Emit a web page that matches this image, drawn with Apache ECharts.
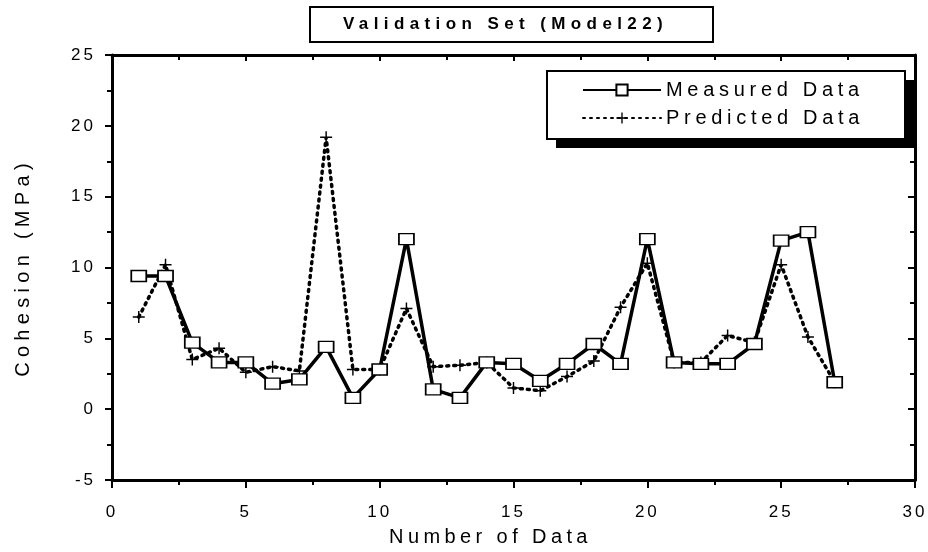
<!DOCTYPE html>
<html lang="en">
<head>
    <meta charset="UTF-8">
    <title>Validation Set</title>
    <script src="https://cdn.jsdelivr.net/npm/echarts@6/dist/echarts.min.js"></script>
    <style>
        html, body { margin: 0; padding: 0; background: #fff; }
        #container { width: 928px; height: 552px; }
    </style>
</head>
<body>
<div id="container"></div>
<script type="text/javascript">
    // data
    var sampleNo = [1, 2, 3, 4, 5, 6, 7, 8, 9, 10, 11, 12, 13, 14, 15, 16, 17, 18, 19, 20, 21, 22, 23, 24, 25, 26, 27];
    var measured = [9.4, 9.4, 4.7, 3.3, 3.3, 1.8, 2.1, 4.4, 0.8, 2.8, 12.0, 1.4, 0.8, 3.3, 3.2, 2.0, 3.2, 4.6, 3.2, 12.0, 3.3, 3.2, 3.2, 4.6, 11.9, 12.5, 1.9];
    var predicted = [6.5, 10.2, 3.5, 4.3, 2.6, 3.0, 2.7, 19.2, 2.8, 2.8, 7.1, 3.0, 3.1, 3.3, 1.5, 1.3, 2.3, 3.4, 7.2, 10.3, 3.3, 3.3, 5.2, 4.7, 10.2, 5.1, 1.9];
    var xTicks = [0, 5, 10, 15, 20, 25, 30];
    var yTicks = [-5, 0, 5, 10, 15, 20, 25];

    var titleText = 'Validation Set (Model22)';
    var xName = 'Number of Data';
    var yName = 'Cohesion (MPa)';
    var seriesNames = ['Measured Data', 'Predicted Data'];

    // the original lettering is widely spaced; canvas letterSpacing does that
    var spacing = {};
    spacing[titleText] = 5.4;
    spacing[xName] = 4.4;
    spacing[yName] = 5.3;
    spacing[seriesNames[0]] = 4.7;
    spacing[seriesNames[1]] = 4.7;
    var origFillText = CanvasRenderingContext2D.prototype.fillText;
    CanvasRenderingContext2D.prototype.fillText = function (txt, x, y, maxWidth) {
        var s = spacing[txt];
        this.letterSpacing = (s === undefined ? 3 : s) + 'px';
        if (maxWidth === undefined) {
            origFillText.call(this, txt, x, y);
        } else {
            origFillText.call(this, txt, x, y, maxWidth);
        }
        this.letterSpacing = '0px';
    };

    function pairs(ys) {
        var out = [];
        for (var i = 0; i < sampleNo.length; i++) {
            out.push([sampleNo[i], ys[i]]);
        }
        return out;
    }

    var font = 'Liberation Sans, Arial, sans-serif';
    var plusPath = 'path://M4.4,0h1.2v4.4h4.4v1.2h-4.4v4.4h-1.2v-4.4h-4.4v-1.2h4.4z';
    var tickStyle = { color: '#000', width: 2 };

    var myChart = echarts.init(document.getElementById('container'));
    var option = {
        animation: false,
        backgroundColor: '#fff',
        title: {
            text: titleText,
            left: 343,
            top: 16,
            padding: 0,
            textStyle: { fontFamily: font, fontWeight: 'bold', fontSize: 17, color: '#000' }
        },
        graphic: [
            // title frame
            { type: 'rect', z: 3, shape: { x: 310, y: 7, width: 403, height: 35 },
              style: { fill: 'none', stroke: '#000', lineWidth: 2 } },
            // legend frame with its drop shadow
            { type: 'rect', z: 3, shape: { x: 556, y: 80, width: 358, height: 68 },
              style: { fill: '#000' } },
            { type: 'rect', z: 3, shape: { x: 547, y: 71, width: 358, height: 68 },
              style: { fill: '#fff', stroke: '#000', lineWidth: 2 } }
        ],
        legend: {
            left: 582,
            top: 80,
            orient: 'vertical',
            itemWidth: 78,
            itemHeight: 14,
            itemGap: 8,
            padding: 0,
            z: 5,
            textStyle: { fontFamily: font, fontSize: 20, color: '#000' },
            data: seriesNames
        },
        grid: { left: 112, right: 13, top: 55, bottom: 65 },
        xAxis: [{
            type: 'value',
            min: xTicks[0],
            max: xTicks[xTicks.length - 1],
            interval: 5,
            name: xName,
            nameLocation: 'middle',
            nameGap: 47,
            nameTextStyle: { fontFamily: font, fontSize: 20, color: '#000', padding: [0, 46, 0, 0] },
            axisLine: { onZero: false, lineStyle: { color: '#000', width: 3 } },
            axisTick: { show: true, length: 8, lineStyle: tickStyle },
            minorTick: { show: true, splitNumber: 2, length: 5, lineStyle: tickStyle },
            axisLabel: { fontFamily: font, fontSize: 17, color: '#000', margin: 24 },
            splitLine: { show: false }
        }, {
            type: 'value',
            position: 'top',
            min: xTicks[0],
            max: xTicks[xTicks.length - 1],
            interval: 5,
            axisLine: { onZero: false, lineStyle: { color: '#000', width: 3 } },
            axisTick: { show: true, inside: true, length: 6, lineStyle: tickStyle },
            minorTick: { show: true, splitNumber: 2, length: 5, lineStyle: tickStyle },
            axisLabel: { show: false },
            splitLine: { show: false }
        }],
        yAxis: [{
            type: 'value',
            min: yTicks[0],
            max: yTicks[yTicks.length - 1],
            interval: 5,
            name: yName,
            nameLocation: 'middle',
            nameGap: 79,
            nameTextStyle: { fontFamily: font, fontSize: 20, color: '#000' },
            axisLine: { show: true, onZero: false, lineStyle: { color: '#000', width: 3 } },
            axisTick: { show: true, length: 7, lineStyle: tickStyle },
            minorTick: { show: true, splitNumber: 2, length: 5, lineStyle: tickStyle },
            axisLabel: { fontFamily: font, fontSize: 17, color: '#000', margin: 16 },
            splitLine: { show: false }
        }, {
            type: 'value',
            position: 'right',
            min: yTicks[0],
            max: yTicks[yTicks.length - 1],
            interval: 5,
            axisLine: { show: true, onZero: false, lineStyle: { color: '#000', width: 3 } },
            axisTick: { show: true, inside: true, length: 7, lineStyle: tickStyle },
            minorTick: { show: true, splitNumber: 2, length: 5, lineStyle: tickStyle },
            axisLabel: { show: false },
            splitLine: { show: false }
        }],
        series: [{
            name: seriesNames[0],
            type: 'line',
            data: pairs(measured),
            symbol: 'rect',
            symbolSize: [15, 11],
            lineStyle: { color: '#000', width: 3.5 },
            itemStyle: { color: '#fff', borderColor: '#000', borderWidth: 1.5 },
            z: 2
        }, {
            name: seriesNames[1],
            type: 'line',
            data: pairs(predicted),
            symbol: plusPath,
            symbolSize: 12,
            lineStyle: { color: '#000', width: 3.5, type: [2, 5], cap: 'round' },
            itemStyle: { color: '#000' },
            z: 1
        }]
    };
    myChart.setOption(option);
</script>
</body>
</html>
